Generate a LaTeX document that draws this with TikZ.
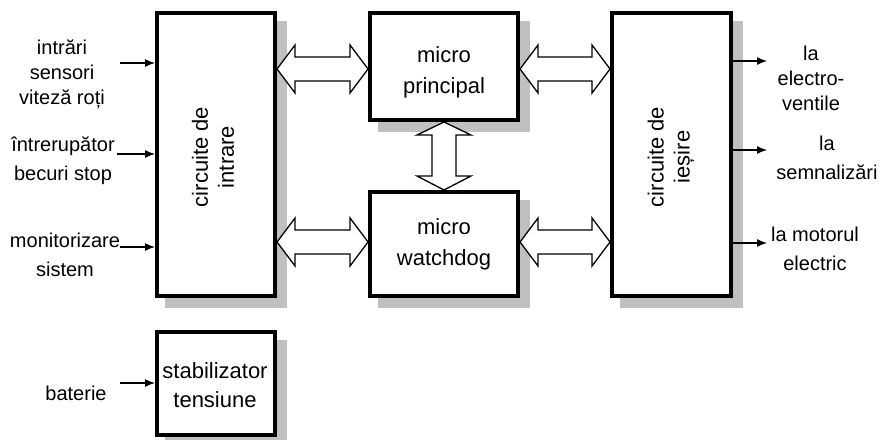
\documentclass[tikz,border=0pt]{standalone}
\usepackage{fontspec}
\setmainfont{Liberation Sans}
\usetikzlibrary{calc,arrows.meta}
\definecolor{shadowgray}{RGB}{192,192,192}
\tikzset{
  blk/.style={draw=black, line width=4pt, fill=white, inner sep=0pt,
    preaction={draw=shadowgray, fill=shadowgray, line width=4pt, transform canvas={shift={(10pt,-10pt)}}}},
  lbl/.style={align=center, inner sep=0pt, font=\fontsize{20}{25}\selectfont},
  lblw/.style={lbl, font=\fontsize{20}{29}\selectfont},
  btxt/.style={lbl, font=\fontsize{22}{26}\selectfont},
  btxtw/.style={lbl, font=\fontsize{22}{29}\selectfont},
  btxtm/.style={lbl, font=\fontsize{22}{31}\selectfont},
  sig/.style={line width=1.3pt, -{Latex[length=10pt,width=8pt]}},
  hollow/.style={draw=black, fill=white, line width=1.3pt, line join=miter}
}
\newcommand{\hdbl}[2]{% left point, right point
  \draw[hollow] let \p1=#1, \p2=#2 in
    (\x1,\y1) -- (\x1+18pt,\y1+24pt) -- (\x1+18pt,\y1+12pt) -- (\x2-18pt,\y1+12pt)
    -- (\x2-18pt,\y1+24pt) -- (\x2,\y1) -- (\x2-18pt,\y1-24pt) -- (\x2-18pt,\y1-12pt)
    -- (\x1+18pt,\y1-12pt) -- (\x1+18pt,\y1-24pt) -- cycle;}
\begin{document}
\begin{tikzpicture}[x=1pt,y=-1pt]
\useasboundingbox (0,0) rectangle (880,439);
% boxes
\node[blk, minimum width=118pt, minimum height=283pt] (in) at (216,154.5) {};
\node[blk, minimum width=148pt, minimum height=107pt] (mp) at (444,66.5) {};
\node[blk, minimum width=148pt, minimum height=104pt] (mw) at (444,244) {};
\node[blk, minimum width=119pt, minimum height=283pt] (out) at (671.5,154.5) {};
\node[blk, minimum width=118pt, minimum height=103pt] (st) at (216,383.5) {};
% box texts
\node[btxt, rotate=90] (intxt) at (213,157) {circuite de\\intrare};
\node[btxt, rotate=90] (outtxt) at (671,157) {circuite de\\ieșire};
\node[btxtm] (mptxt) at (444,72) {micro\\principal};
\node[btxtm] (mwtxt) at (444,244) {micro\\watchdog};
\node[btxtw] (sttxt) at (215,385) {stabilizator\\tensiune};
% coordinates for arrow rows
\coordinate (r1) at (0,69);
\coordinate (r2) at (0,242);
% hollow double arrows
\hdbl{(in.east|-r1)}{(mp.west|-r1)}
\hdbl{(in.east|-r2)}{(mw.west|-r2)}
\hdbl{(mp.east|-r1)}{(out.west|-r1)}
\hdbl{(mw.east|-r2)}{(out.west|-r2)}
\draw[hollow] let \p1=(mp.south), \p2=(mw.north) in
  (\x1,\y1) -- (\x1+27pt,\y1-13pt) -- (\x1+12pt,\y1-13pt) -- (\x1+12pt,\y2+14pt)
  -- (\x1+27pt,\y2+14pt) -- (\x1,\y2) -- (\x1-27pt,\y2+14pt) -- (\x1-12pt,\y2+14pt)
  -- (\x1-12pt,\y1-13pt) -- (\x1-27pt,\y1-13pt) -- cycle;
% input labels
\node[lbl] (i1) at (62,74) {intrări\\sensori\\viteză roți};
\node[lblw] (i2) at (63,161) {întrerupător\\becuri stop};
\node[lblw] (i3) at (65,255) {monitorizare\\sistem};
\node[lbl] (i4) at (76,393) {baterie};
\coordinate (a1) at (120,63);
\coordinate (a2) at (117,154);
\coordinate (a3) at (120,247);
\coordinate (a4) at (120,383);
\draw[sig] (a1) -- (in.west|-a1);
\draw[sig] (a2) -- (in.west|-a2);
\draw[sig] (a3) -- (in.west|-a3);
\draw[sig] (a4) -- (st.west|-a4);
% output labels
\node[lbl] (o1) at (811,78) {la\\electro-\\ventile};
\node[lblw] (o2) at (827,158) {la\\semnalizări};
\node[lblw] (o3) at (815,249) {la motorul\\electric};
\coordinate (b1) at (767,61);
\coordinate (b2) at (767,150);
\coordinate (b3) at (767,243);
\draw[sig] (out.east|-b1) -- (b1);
\draw[sig] (out.east|-b2) -- (b2);
\draw[sig] (out.east|-b3) -- (b3);
\end{tikzpicture}
\end{document}
